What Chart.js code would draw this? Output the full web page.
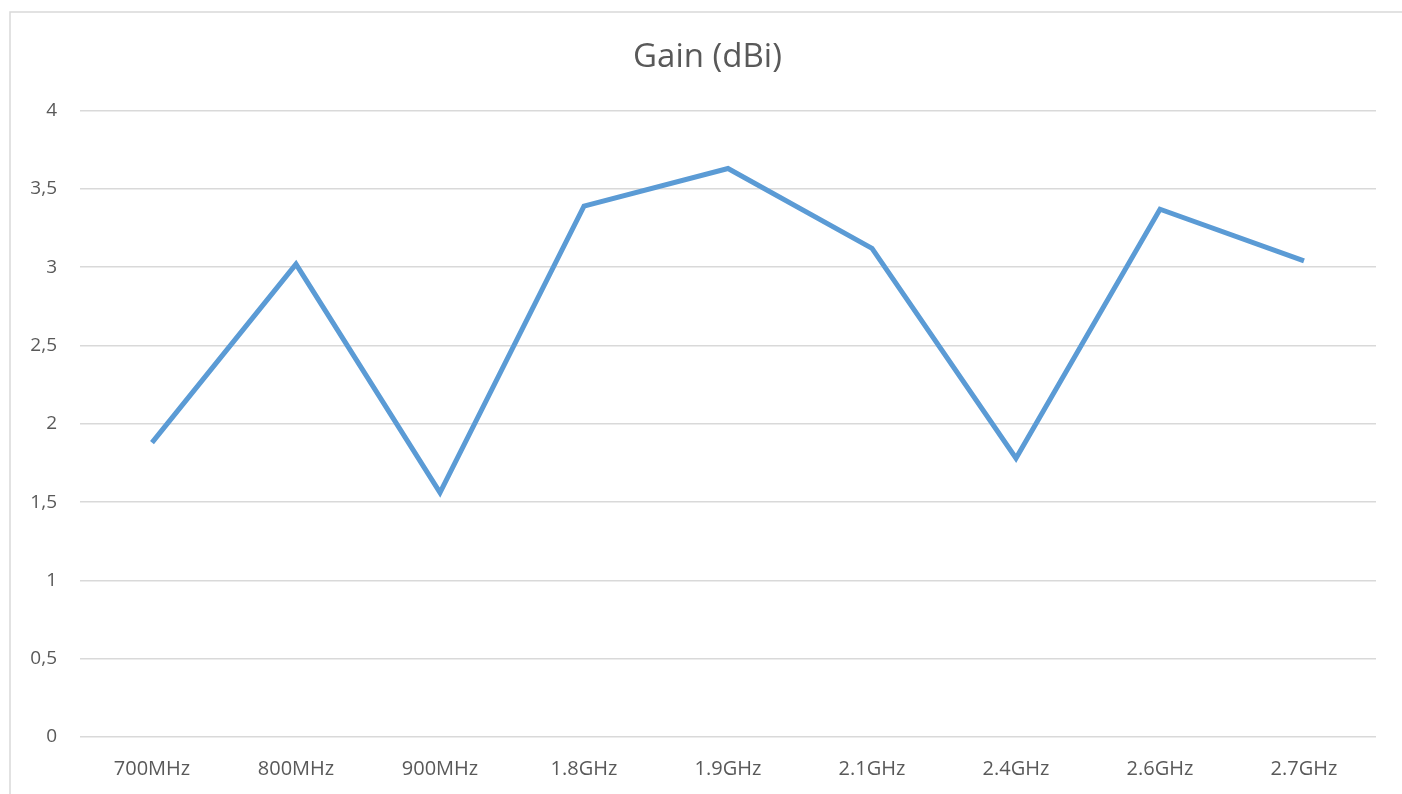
<!DOCTYPE html>
<html>
<head>
<meta charset="utf-8">
<script src="https://cdn.jsdelivr.net/npm/chart.js@4/dist/chart.umd.min.js"></script>
<style>
  html, body { margin: 0; padding: 0; background: #fff; }
  #chart { display: block; }
</style>
</head>
<body>
<canvas id="chart" width="1402" height="794"></canvas>
<script>
var categories = ["700MHz", "800MHz", "900MHz", "1.8GHz", "1.9GHz", "2.1GHz", "2.4GHz", "2.6GHz", "2.7GHz"];
var gainValues = [1.88, 3.02, 1.56, 3.39, 3.63, 3.12, 1.78, 3.37, 3.04];
var yTicks = [0, 0.5, 1, 1.5, 2, 2.5, 3, 3.5, 4];

var fontFamily = "'Open Sans', sans-serif";

// white background + the light frame around the chart
var frame = {
  id: 'frame',
  beforeDraw: function (chart) {
    var ctx = chart.ctx;
    ctx.save();
    ctx.fillStyle = '#ffffff';
    ctx.fillRect(0, 0, chart.width, chart.height);
    ctx.strokeStyle = '#d9d9d9';
    ctx.lineWidth = 1.5;
    ctx.strokeRect(10, 12, chart.width + 20, chart.height + 20);
    ctx.restore();
  },
  // centre the title on the frame rather than on the padded canvas
  afterLayout: function (chart) {
    if (chart.titleBlock) {
      chart.titleBlock.left = 39;
      chart.titleBlock.right = 1376;
    }
  }
};

var myLine = new Chart(document.getElementById("chart").getContext("2d"), {
  type: 'line',
  data: {
    labels: categories,
    datasets: [{
      label: 'Gain (dBi)',
      data: gainValues,
      borderColor: '#5b9bd5',
      backgroundColor: '#5b9bd5',
      borderWidth: 5,
      pointRadius: 0,
      tension: 0,
      fill: false
    }]
  },
  options: {
    responsive: false,
    animation: false,
    layout: { padding: { top: 0, left: 0, right: 26, bottom: 0 } },
    plugins: {
      legend: { display: false },
      tooltip: { enabled: false },
      title: {
        display: true,
        text: 'Gain (dBi)',
        color: '#595959',
        font: { family: fontFamily, size: 33, weight: 'normal' },
        padding: { top: 38, bottom: 33 }
      }
    },
    scales: {
      x: {
        offset: true,
        grid: { display: false, drawTicks: false },
        border: { display: false },
        ticks: {
          color: '#595959',
          font: { family: fontFamily, size: 20 },
          padding: 20,
          maxRotation: 0
        },
        afterFit: function (scale) { scale.height = 57; }
      },
      y: {
        min: 0,
        max: 4,
        afterBuildTicks: function (scale) {
          scale.ticks = yTicks.map(function (v) { return { value: v }; });
        },
        grid: { color: '#d9d9d9', lineWidth: 1.5, drawTicks: false },
        border: { display: false },
        ticks: {
          color: '#595959',
          font: { family: fontFamily, size: 19 },
          padding: 23,
          callback: function (v) { return String(v).replace('.', ','); }
        },
        afterFit: function (scale) { scale.width = 80; }
      }
    }
  },
  plugins: [frame]
});
</script>
</body>
</html>
